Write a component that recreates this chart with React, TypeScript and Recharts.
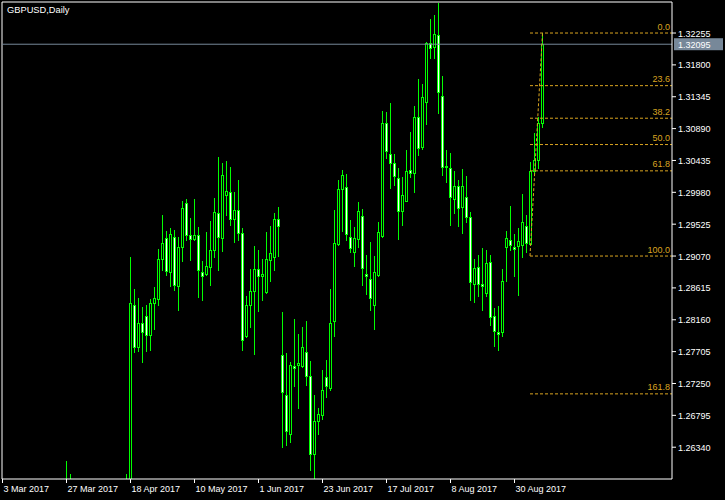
import React from 'react';
import { ComposedChart, Bar, XAxis, YAxis, ReferenceLine } from 'recharts';

// ---- data (GBPUSD daily, index 0 = 3 Mar 2017) ----
const opens = [
  1.2300, 1.2290, 1.2250, 1.2220, 1.2200, 1.2170, 1.2160, 1.2210, 1.2230, 1.2380,
  1.2390, 1.2370, 1.2360, 1.2480, 1.2470, 1.2480, 1.2520, 1.2560, 1.2440, 1.2460,
  1.2480, 1.2490, 1.2460, 1.2470, 1.2400, 1.2410, 1.2470, 1.2500, 1.2530, 1.2510,
  1.2520, 1.2540, 1.2560, 1.28375, 1.27771, 1.28113, 1.28213, 1.27942, 1.28399, 1.28456,
  1.29026, 1.29326, 1.28841, 1.29340, 1.28636, 1.29198, 1.29825, 1.29364, 1.29312, 1.29369,
  1.28841, 1.28812, 1.28912, 1.29160, 1.29683, 1.29326, 1.29935, 1.29982, 1.29597, 1.29725,
  1.29397, 1.27923, 1.28370, 1.28570, 1.28884, 1.28779, 1.28551, 1.29017, 1.29050, 1.29597,
  1.27652, 1.27086, 1.26530, 1.27505, 1.27519, 1.27495, 1.27700, 1.27353, 1.26245, 1.26711,
  1.26796, 1.27343, 1.27186, 1.28147, 1.29240, 1.30025, 1.30053, 1.29349, 1.29121, 1.29311,
  1.29644, 1.28812, 1.28741, 1.28365, 1.28803, 1.29359, 1.30966, 1.30529, 1.30396, 1.30182,
  1.29720, 1.29863, 1.30300, 1.30262, 1.31052, 1.30633, 1.31266, 1.32107, 1.32060, 1.32226,
  1.31361, 1.30357, 1.30324, 1.29882, 1.30072, 1.29768, 1.29911, 1.29625, 1.28670, 1.28912,
  1.28674, 1.28541, 1.28983, 1.28208, 1.27985, 1.27985, 1.29197, 1.29302, 1.29193, 1.29207,
  1.29221, 1.29506, 1.29240, 1.30291, 1.30443, 1.30976,
];
const highs = [
  1.2320, 1.2300, 1.2270, 1.2250, 1.2220, 1.2200, 1.2220, 1.2260, 1.2390, 1.2400,
  1.2420, 1.2390, 1.2510, 1.2520, 1.2500, 1.2540, 1.2614, 1.2596, 1.2480, 1.2500,
  1.2520, 1.2510, 1.2500, 1.2480, 1.2430, 1.2480, 1.2520, 1.2550, 1.2560, 1.2540,
  1.2570, 1.2596, 1.29055, 1.28603, 1.28470, 1.28346, 1.28375, 1.28456, 1.28632, 1.29169,
  1.29659, 1.29431, 1.29469, 1.29445, 1.29335, 1.29849, 1.29882, 1.29611, 1.29882, 1.29483,
  1.29003, 1.29412, 1.29573, 1.29897, 1.30481, 1.30396, 1.30429, 1.30339, 1.29987, 1.30158,
  1.29469, 1.28503, 1.28888, 1.29212, 1.29160, 1.29031, 1.29412, 1.29502, 1.29683, 1.29768,
  1.28270, 1.27685, 1.27557, 1.28175, 1.27961, 1.28061, 1.28147, 1.27576, 1.27091, 1.26901,
  1.27448, 1.27590, 1.28598, 1.29730, 1.30158, 1.30300, 1.30243, 1.29587, 1.29483, 1.29844,
  1.29744, 1.29088, 1.29273, 1.29074, 1.29559, 1.31142, 1.31128, 1.31256, 1.30529, 1.30329,
  1.30205, 1.30586, 1.30843, 1.31213, 1.31598, 1.31527, 1.32122, 1.32454, 1.32512, 1.32687,
  1.31641, 1.30586, 1.30538, 1.30286, 1.30158, 1.30315, 1.30215, 1.29697, 1.29031, 1.29088,
  1.29178, 1.29159, 1.29088, 1.28327, 1.28360, 1.28883, 1.29430, 1.29787, 1.29388, 1.29468,
  1.29958, 1.29658, 1.30419, 1.30823, 1.31061, 1.32255,
];
const lows = [
  1.2250, 1.2240, 1.2210, 1.2190, 1.2150, 1.2110, 1.2150, 1.2190, 1.2210, 1.2330,
  1.2350, 1.2330, 1.2350, 1.2440, 1.2450, 1.2460, 1.2490, 1.2420, 1.2380, 1.2410,
  1.2440, 1.2440, 1.2430, 1.2380, 1.2370, 1.2400, 1.2450, 1.2480, 1.2490, 1.2470,
  1.2500, 1.2520, 1.2550, 1.27695, 1.27709, 1.27552, 1.27709, 1.27733, 1.28033, 1.28375,
  1.28874, 1.28803, 1.28636, 1.28589, 1.28294, 1.28993, 1.29302, 1.29017, 1.29302, 1.28480,
  1.28437, 1.28800, 1.28651, 1.29055, 1.28874, 1.29136, 1.29659, 1.29516, 1.29264, 1.29302,
  1.27733, 1.27914, 1.28056, 1.27676, 1.28289, 1.28446, 1.28540, 1.28708, 1.28865, 1.29074,
  1.26340, 1.26368, 1.26411, 1.27219, 1.26901, 1.27481, 1.27224, 1.26012, 1.25893, 1.26530,
  1.26744, 1.27058, 1.27162, 1.27923, 1.29231, 1.29430, 1.29302, 1.29121, 1.28921, 1.29193,
  1.28660, 1.28532, 1.28304, 1.28030, 1.28788, 1.29349, 1.30467, 1.30048, 1.30086, 1.29316,
  1.29516, 1.29858, 1.30200, 1.29987, 1.30515, 1.30600, 1.30957, 1.31903, 1.31903, 1.31118,
  1.30229, 1.30134, 1.29516, 1.29682, 1.29502, 1.29397, 1.29563, 1.28446, 1.28408, 1.28503,
  1.28304, 1.28494, 1.28089, 1.27780, 1.27723, 1.27923, 1.28717, 1.29150, 1.28779, 1.28508,
  1.29050, 1.29126, 1.29231, 1.30262, 1.30324, 1.30919,
];
const closes = [
  1.2290, 1.2250, 1.2220, 1.2200, 1.2170, 1.2160, 1.2210, 1.2230, 1.2380, 1.2390,
  1.2370, 1.2360, 1.2480, 1.2470, 1.2480, 1.2520, 1.2560, 1.2440, 1.2460, 1.2480,
  1.2490, 1.2460, 1.2470, 1.2400, 1.2410, 1.2470, 1.2500, 1.2530, 1.2510, 1.2520,
  1.2540, 1.2560, 1.28399, 1.27771, 1.28113, 1.27985, 1.27942, 1.28399, 1.28470, 1.29026,
  1.29255, 1.28850, 1.29388, 1.28651, 1.29198, 1.29754, 1.29364, 1.29312, 1.29369, 1.28869,
  1.28779, 1.28927, 1.29160, 1.29697, 1.29340, 1.30225, 1.29996, 1.29597, 1.29725, 1.29397,
  1.27867, 1.28370, 1.28570, 1.28884, 1.28779, 1.28812, 1.29026, 1.29112, 1.29597, 1.29492,
  1.27124, 1.26568, 1.27519, 1.27467, 1.27543, 1.27771, 1.27353, 1.26245, 1.26715, 1.26815,
  1.27158, 1.27210, 1.28113, 1.29255, 1.30025, 1.30224, 1.29383, 1.29183, 1.29326, 1.29711,
  1.28898, 1.28779, 1.28470, 1.28841, 1.29411, 1.30966, 1.30576, 1.30396, 1.30220, 1.29720,
  1.29939, 1.30291, 1.30262, 1.31052, 1.30619, 1.31337, 1.32107, 1.32046, 1.32236, 1.31408,
  1.30348, 1.30338, 1.29920, 1.30072, 1.29754, 1.30072, 1.29625, 1.28698, 1.28898, 1.28670,
  1.28636, 1.28969, 1.28199, 1.28004, 1.27956, 1.28708, 1.29326, 1.29221, 1.29169, 1.29288,
  1.29554, 1.29254, 1.30291, 1.30443, 1.30976, 1.32095,
];

const dateTickIndex = [0, 16, 32, 48, 64, 80, 96, 112, 128];
const dateTickLabels = ['3 Mar 2017', '27 Mar 2017', '18 Apr 2017', '10 May 2017', '1 Jun 2017', '23 Jun 2017', '17 Jul 2017', '8 Aug 2017', '30 Aug 2017'];
const priceTicks = [1.32255, 1.318, 1.31345, 1.3089, 1.30435, 1.2998, 1.29525, 1.2907, 1.28615, 1.2816, 1.27705, 1.2725, 1.26795, 1.2634];

const symbolTitle = 'GBPUSD,Daily';
const bidPrice = 1.32095;
const fibHigh = 1.32255;
const fibLow = 1.2907;
const fibRatios = [0, 23.6, 38.2, 50.0, 61.8, 100.0, 161.8];
const fibStartIndex = 131.875;
const fibEndIndex = 135;

const X_DOMAIN: [number, number] = [-0.125, 167.375];
const Y_DOMAIN: [number, number] = [1.25886, 1.32698];

const data = opens.map((o, i) => ({
  i,
  open: o,
  high: highs[i],
  low: lows[i],
  close: closes[i],
}));

const GREEN = '#00ff00';
const FIB = '#daa520';
const BID = '#778899';
const FONT = '"Liberation Sans", Arial, sans-serif';

const Candle = (props: any) => {
  const { x, y, width, height, payload } = props;
  if (x == null || y == null || !payload) return null;
  const { open, close, high, low } = payload;
  const top = Math.min(y, y + height);
  const h = Math.abs(height);
  const cx = Math.floor(x + width / 2) + 0.5;
  const py = (p: number) => (high === low ? top : top + ((high - p) / (high - low)) * h);
  const bTop = Math.round(py(Math.max(open, close))) + 0.5;
  const bBot = Math.round(py(Math.min(open, close))) + 0.5;
  const bull = close >= open;
  return (
    <g>
      <line x1={cx} x2={cx} y1={Math.round(top)} y2={Math.round(top + h) + 1} stroke={GREEN} strokeWidth={1} />
      <rect x={cx - 1} y={bTop} width={2} height={Math.max(bBot - bTop, 0)} fill={bull ? '#000000' : '#ffffff'} stroke={GREEN} strokeWidth={1} />
    </g>
  );
};

const DateTick = (props: any) => {
  const { x, payload } = props;
  const idx = dateTickIndex.indexOf(payload.value);
  return (
    <text x={x + 1} y={492} fill="#ffffff" fontSize={9} fontFamily={FONT} textAnchor="start">
      {idx >= 0 ? dateTickLabels[idx] : ''}
    </text>
  );
};

const PriceTick = (props: any) => {
  const { y, payload } = props;
  return (
    <text x={678} y={y + 3.5} fill="#ffffff" fontSize={9} fontFamily={FONT} textAnchor="start">
      {Number(payload.value).toFixed(5)}
    </text>
  );
};

const BidLabel = (props: any) => {
  const { viewBox } = props;
  if (!viewBox) return null;
  const yy = viewBox.y;
  return (
    <g>
      <rect x={674} y={yy - 6} width={49} height={12} fill={BID} />
      <text x={678} y={yy + 3.5} fill="#ffffff" fontSize={9} fontFamily={FONT}>
        {bidPrice.toFixed(5)}
      </text>
    </g>
  );
};

const makeFibLabel = (txt: string) => (props: any) => {
  const { viewBox } = props;
  if (!viewBox) return null;
  return (
    <text x={670} y={viewBox.y - 3.5} fill={FIB} fontSize={9} fontFamily={FONT} textAnchor="end">
      {txt}
    </text>
  );
};

export default function App() {
  return (
    <div style={{ position: 'absolute', left: 0, top: 0, width: 725, height: 500, background: '#000000' }}>
      <ComposedChart
        width={725}
        height={500}
        data={data}
        margin={{ top: 2, right: 0, bottom: 0, left: 2 }}
        style={{ background: '#000000' }}
      >
        <XAxis
          dataKey="i"
          type="number"
          domain={X_DOMAIN}
          allowDataOverflow
          ticks={dateTickIndex}
          interval={0}
          height={21}
          axisLine={{ stroke: '#ffffff' }}
          tickLine={{ stroke: '#ffffff' }}
          tickSize={4}
          tick={<DateTick />}
        />
        <YAxis
          orientation="right"
          type="number"
          domain={Y_DOMAIN}
          allowDataOverflow
          ticks={priceTicks}
          interval={0}
          width={53}
          axisLine={{ stroke: '#ffffff' }}
          tickLine={{ stroke: '#ffffff' }}
          tickSize={4}
          tick={<PriceTick />}
        />
        <ReferenceLine x={X_DOMAIN[0]} stroke="#ffffff" strokeWidth={1} ifOverflow="visible" />
        <ReferenceLine y={Y_DOMAIN[1]} stroke="#ffffff" strokeWidth={1} ifOverflow="visible" />
        <ReferenceLine y={bidPrice} stroke={BID} strokeWidth={1} label={<BidLabel />} />
        <Bar
          dataKey={(d: any) => [d.low, d.high]}
          barSize={3}
          shape={<Candle />}
          isAnimationActive={false}
        />
        {fibRatios.map((r) => {
          const level = fibHigh - (r / 100) * (fibHigh - fibLow);
          return (
            <ReferenceLine
              key={r}
              segment={[{ x: fibStartIndex, y: level }, { x: X_DOMAIN[1], y: level }]}
              stroke={FIB}
              strokeDasharray="3 2"
              label={makeFibLabel(r.toFixed(1))}
            />
          );
        })}
        <ReferenceLine
          segment={[{ x: fibStartIndex, y: fibLow }, { x: fibEndIndex, y: fibHigh }]}
          stroke={FIB}
          strokeDasharray="3 2"
        />
        <text x={7} y={13} fill="#ffffff" fontSize={9.3} fontFamily={FONT}>
          {symbolTitle}
        </text>
      </ComposedChart>
    </div>
  );
}
